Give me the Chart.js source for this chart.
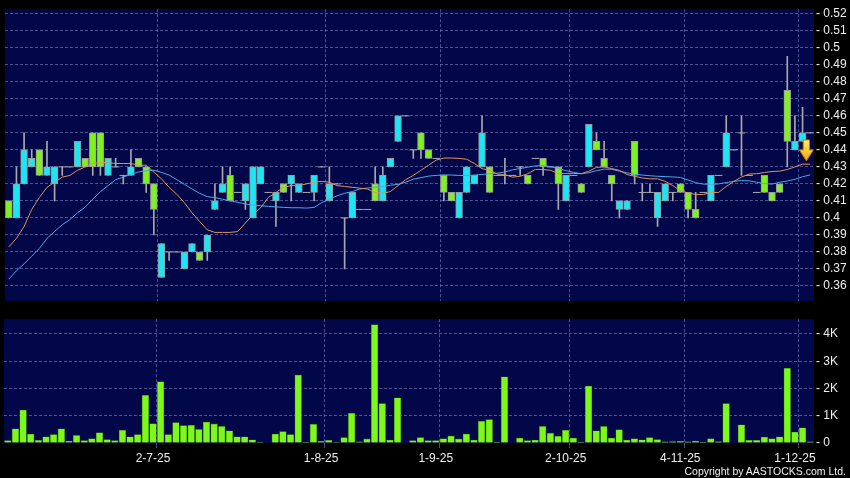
<!DOCTYPE html>
<html>
<head>
<meta charset="utf-8">
<script src="https://cdn.jsdelivr.net/npm/chart.js@4.4.1/dist/chart.umd.min.js"></script>
<style>
  html, body { margin: 0; padding: 0; background: #000; }
  #wrap { position: relative; width: 850px; height: 478px; background: #000; overflow: hidden; }
  #priceBox { position: absolute; left: 0; top: 0; width: 850px; height: 310px; }
  #volBox { position: absolute; left: 0; top: 310px; width: 850px; height: 168px; }
  #copy { position: absolute; right: 4px; top: 465px; color: #f0f0f0; font: 10.5px "Liberation Sans", Arial, sans-serif; }
</style>
</head>
<body>
<div id="wrap">
  <div id="priceBox"><canvas id="priceChart" width="850" height="310"></canvas></div>
  <div id="volBox"><canvas id="volChart" width="850" height="168"></canvas></div>
  <div id="copy">Copyright by AASTOCKS.com Ltd.</div>
</div>
<script>
// Datos del gráfico
const dateIdx = [19, 41, 56, 73, 88, 103];
const dateLabels = ['2-7-25', '1-8-25', '1-9-25', '2-10-25', '4-11-25', '1-12-25'];
const priceTicks = [0.36, 0.37, 0.38, 0.39, 0.40, 0.41, 0.42, 0.43, 0.44, 0.45, 0.46, 0.47, 0.48, 0.49, 0.50, 0.51, 0.52];
const volTicks = [0, 1, 2, 3, 4];

const opens = [
  .41, .40, .42, .43, .44, .425, .42, .43, .43, .43,
  .435, .45, .45, .425, .43, .425, .425, .435, .43, .42,
  .365, .38, .38, .37, .38, .38, .38, .405, .415, .425,
  .415, .41, .40, .42, .415, .41, .42, .42, .415, .415,
  .415, .43, .41, .42, .40, .40, .405, .405, .42, .41,
  .43, .445, .46, .44, .45, .44, .435, .425, .415, .40,
  .415, .42, .43, .43, .425, .425, .425, .43, .425, .435,
  .435, .43, .43, .41, .425, .42, .43, .445, .435, .425,
  .405, .405, .445, .415, .415, .40, .41, .415, .42, .415,
  .405, .415, .41, .425, .43, .44, .45, .425, .415, .425,
  .415, .42, .475, .44, .445, .45
];
const highs = [
  .41, .43, .45, .44, .44, .445, .43, .43, .43, .445,
  .435, .45, .45, .435, .435, .425, .44, .435, .43, .42,
  .385, .38, .38, .38, .385, .38, .39, .42, .43, .43,
  .415, .42, .43, .43, .415, .415, .42, .425, .42, .415,
  .425, .43, .43, .42, .40, .415, .405, .405, .43, .43,
  .435, .46, .46, .44, .45, .44, .435, .425, .415, .415,
  .43, .425, .46, .43, .425, .435, .425, .43, .425, .435,
  .435, .43, .43, .425, .425, .42, .455, .45, .445, .425,
  .41, .41, .445, .42, .42, .415, .42, .415, .42, .415,
  .415, .415, .425, .425, .46, .44, .46, .425, .415, .425,
  .415, .42, .495, .46, .465, .45
];
const lows = [
  .40, .40, .42, .43, .425, .425, .41, .425, .43, .43,
  .43, .425, .425, .425, .43, .42, .425, .43, .415, .39,
  .365, .375, .38, .37, .38, .375, .375, .405, .415, .41,
  .415, .405, .40, .42, .415, .395, .415, .41, .415, .415,
  .41, .43, .41, .42, .37, .40, .405, .405, .41, .41,
  .43, .445, .46, .435, .435, .435, .435, .41, .41, .40,
  .415, .42, .43, .415, .425, .42, .425, .425, .42, .435,
  .425, .43, .405, .41, .425, .415, .43, .44, .43, .41,
  .40, .405, .42, .41, .415, .395, .41, .41, .415, .40,
  .40, .415, .41, .425, .43, .44, .425, .425, .415, .415,
  .41, .415, .43, .44, .445, .45
];
const closes = [
  .40, .42, .44, .435, .425, .43, .43, .43, .43, .445,
  .43, .43, .43, .435, .43, .425, .43, .43, .42, .405,
  .385, .38, .38, .38, .385, .375, .39, .41, .42, .41,
  .415, .42, .43, .43, .415, .415, .415, .425, .42, .415,
  .425, .43, .42, .42, .40, .415, .405, .405, .41, .425,
  .435, .46, .46, .44, .44, .435, .435, .415, .41, .415,
  .43, .425, .45, .415, .425, .425, .425, .43, .42, .435,
  .43, .43, .42, .425, .425, .415, .455, .44, .43, .42,
  .41, .41, .425, .415, .415, .415, .42, .415, .415, .405,
  .40, .415, .425, .425, .45, .44, .45, .425, .415, .415,
  .41, .415, .445, .445, .45, .45
];
// volumen en miles (K)
const volumes = [
  0.09, 0.52, 1.21, 0.33, 0.10, 0.23, 0.31, 0.52, 0.07, 0.28,
  0.09, 0.16, 0.38, 0.13, 0.09, 0.47, 0.23, 0.31, 1.75, 0.71,
  2.25, 0.31, 0.75, 0.64, 0.65, 0.50, 0.77, 0.70, 0.61, 0.45,
  0.23, 0.23, 0.12, 0.02, 0, 0.33, 0.42, 0.31, 2.49, 0.01,
  0.69, 0.06, 0.10, 0.02, 0.20, 1.09, 0.04, 0.15, 4.34, 1.45,
  0.11, 1.66, 0, 0.09, 0.20, 0.09, 0.09, 0.16, 0.26, 0.15,
  0.33, 0.11, 0.80, 0.86, 0.01, 2.43, 0, 0.18, 0.09, 0.11,
  0.61, 0.36, 0.25, 0.47, 0.18, 0.01, 2.09, 0.45, 0.61, 0.18,
  0.49, 0.11, 0.16, 0.12, 0.20, 0.13, 0.04, 0.05, 0.06, 0.04,
  0.07, 0.01, 0.16, 0.05, 1.45, 0, 0.67, 0.10, 0.10, 0.22,
  0.16, 0.23, 2.74, 0.40, 0.56, 0.04
];
// medias móviles (naranja corta, azul larga)
const maShort = [
  0.383, 0.388, 0.395, 0.405, 0.412, 0.418, 0.421, 0.424, 0.425, 0.428,
  0.430, 0.432, 0.4325, 0.4325, 0.432, 0.432, 0.432, 0.431, 0.431, 0.427,
  0.423, 0.418, 0.414, 0.409, 0.403, 0.398, 0.393, 0.3915, 0.3915, 0.3915,
  0.392, 0.397, 0.402, 0.406, 0.412, 0.415, 0.418, 0.419, 0.419, 0.420,
  0.421, 0.4215, 0.421, 0.419, 0.4185, 0.418, 0.4175, 0.417, 0.415, 0.4145,
  0.4155, 0.419, 0.4225, 0.425, 0.428, 0.431, 0.434, 0.4352, 0.4352, 0.435,
  0.4345, 0.432, 0.429, 0.428, 0.4258, 0.4254, 0.424, 0.4245, 0.426, 0.4285,
  0.4285, 0.428, 0.426, 0.4262, 0.4262, 0.426, 0.4275, 0.4297, 0.430, 0.429,
  0.428, 0.4255, 0.4245, 0.4235, 0.423, 0.423, 0.4215, 0.419, 0.416, 0.4147,
  0.4138, 0.4138, 0.415, 0.415, 0.4185, 0.4215, 0.424, 0.4258, 0.426, 0.4267,
  0.4273, 0.4275, 0.4285, 0.430, 0.4316, 0.4316
];
const maLong = [
  0.364, 0.369, 0.373, 0.3775, 0.382, 0.388, 0.392, 0.396, 0.399, 0.403,
  0.4063, 0.411, 0.4154, 0.419, 0.4225, 0.424, 0.4256, 0.427, 0.4278, 0.428,
  0.4268, 0.4252, 0.4225, 0.4198, 0.417, 0.4145, 0.4125, 0.412, 0.411, 0.410,
  0.4092, 0.4083, 0.4075, 0.4072, 0.4068, 0.4065, 0.4062, 0.406, 0.406, 0.4058,
  0.4062, 0.409, 0.411, 0.413, 0.4145, 0.4155, 0.417, 0.4176, 0.418, 0.4185,
  0.4192, 0.4198, 0.421, 0.4228, 0.4237, 0.4246, 0.425, 0.4253, 0.4252, 0.425,
  0.4249, 0.4252, 0.4256, 0.426, 0.4263, 0.427, 0.4283, 0.429, 0.4298, 0.4306,
  0.4308, 0.4302, 0.429, 0.4278, 0.4268, 0.426, 0.4266, 0.4278, 0.4287, 0.4286,
  0.4275, 0.4265, 0.4257, 0.4252, 0.4248, 0.4245, 0.4243, 0.4241, 0.4238, 0.4223,
  0.4207, 0.4199, 0.4197, 0.420, 0.4208, 0.4215, 0.422, 0.4218, 0.421, 0.4202,
  0.4199, 0.421, 0.4217, 0.4227, 0.4242, 0.4253
];

// Colores
const bgColor = '#02074a';
const gridColor = 'rgba(120, 132, 200, 0.6)';
const textColor = '#eeeeee';
const upColor = '#1ce6f4';
const downColor = '#80f022';
const wickColor = '#a8a8a8';
const fontFamily = '"Liberation Sans", Arial, sans-serif';

const labels = opens.map((_, i) => String(i));
const wicks = lows.map((l, i) => [l, highs[i]]);
const bodies = opens.map((o, i) => o === closes[i] ? null : [o, closes[i]]);
const dojis = opens.map((o, i) => o === closes[i] ? closes[i] : null);
const bodyColors = opens.map((o, i) => closes[i] > o ? upColor : downColor);

// Fondo azul del área de trazado
const plotBg = {
    id: 'plotBg',
    beforeDraw(chart) {
        const { ctx, chartArea: a } = chart;
        ctx.save();
        ctx.fillStyle = bgColor;
        ctx.fillRect(a.left, a.top, a.right - a.left, a.bottom - a.top);
        ctx.restore();
    }
};

// Flecha amarilla junto a la última vela
const lastArrow = {
    id: 'lastArrow',
    afterDatasetsDraw(chart) {
        const { ctx, scales: { x, y } } = chart;
        const last = closes.length - 1;
        const cx = (x.getPixelForValue(last - 1) + x.getPixelForValue(last)) / 2;
        const top = y.getPixelForValue(closes[last]) + 7;
        const g = ctx.createLinearGradient(0, top, 0, top + 21);
        g.addColorStop(0, '#fff06a');
        g.addColorStop(1, '#f2a400');
        ctx.save();
        ctx.beginPath();
        ctx.moveTo(cx - 3.2, top);
        ctx.lineTo(cx + 3.2, top);
        ctx.lineTo(cx + 3.2, top + 10);
        ctx.lineTo(cx + 7, top + 10);
        ctx.lineTo(cx, top + 21);
        ctx.lineTo(cx - 7, top + 10);
        ctx.lineTo(cx - 3.2, top + 10);
        ctx.closePath();
        ctx.fillStyle = g;
        ctx.fill();
        ctx.strokeStyle = '#b87400';
        ctx.lineWidth = 1;
        ctx.stroke();
        ctx.restore();
    }
};

function fmtPrice(v) {
    return String(Math.round(v * 100) / 100);
}

function dateGrid(ctx) {
    return dateIdx.includes(ctx.index - 1) ? gridColor : 'rgba(0,0,0,0)';
}

function createPriceChart() {
    const ctx = document.getElementById('priceChart');
    return new Chart(ctx, {
        type: 'bar',
        data: {
            labels: labels,
            datasets: [
                {
                    type: 'line',
                    data: maShort,
                    borderColor: '#e2925c',
                    borderWidth: 1,
                    pointRadius: 0,
                    order: 1
                },
                {
                    type: 'line',
                    data: maLong,
                    borderColor: '#4aa8ea',
                    borderWidth: 1,
                    pointRadius: 0,
                    order: 2
                },
                {
                    type: 'line',
                    data: dojis,
                    showLine: false,
                    pointStyle: 'line',
                    pointRadius: 3.8,
                    pointBorderWidth: 1,
                    pointBorderColor: wickColor,
                    order: 3
                },
                {
                    data: bodies,
                    backgroundColor: bodyColors,
                    borderColor: '#9a9a9a',
                    borderWidth: 1,
                    borderSkipped: false,
                    barThickness: 6.8,
                    grouped: false,
                    order: 4
                },
                {
                    data: wicks,
                    backgroundColor: wickColor,
                    barThickness: 1,
                    grouped: false,
                    order: 5
                }
            ]
        },
        options: {
            responsive: false,
            animation: false,
            events: [],
            layout: { padding: { left: 4, top: 5, bottom: 5, right: 0 } },
            plugins: { legend: { display: false }, tooltip: { enabled: false } },
            scales: {
                x: {
                    offset: true,
                    ticks: { display: false },
                    grid: { offset: true, drawTicks: false, color: dateGrid },
                    border: { display: false, dash: [3, 2] },
                    afterFit: (s) => { s.height = 0; }
                },
                y: {
                    position: 'right',
                    min: 0.3513,
                    max: 0.5227,
                    afterBuildTicks: (s) => { s.ticks = priceTicks.map(v => ({ value: v })); },
                    afterFit: (s) => { s.width = 36; },
                    ticks: {
                        color: textColor,
                        padding: 2,
                        font: { family: fontFamily, size: 12 },
                        callback: (v) => '- ' + fmtPrice(v)
                    },
                    grid: { color: gridColor, drawTicks: false },
                    border: { display: false, dash: [3, 2] }
                }
            }
        },
        plugins: [plotBg, lastArrow]
    });
}

function createVolumeChart() {
    const ctx = document.getElementById('volChart');
    return new Chart(ctx, {
        type: 'bar',
        data: {
            labels: labels,
            datasets: [{
                data: volumes,
                backgroundColor: '#7ef81a',
                borderColor: 'rgba(60, 130, 20, 0.8)',
                borderWidth: 0.6,
                borderSkipped: 'bottom',
                barThickness: 6.7
            }]
        },
        options: {
            responsive: false,
            animation: false,
            events: [],
            layout: { padding: { left: 4, top: 9, bottom: 0, right: 0 } },
            plugins: { legend: { display: false }, tooltip: { enabled: false } },
            scales: {
                x: {
                    offset: true,
                    ticks: {
                        autoSkip: false,
                        maxRotation: 0,
                        padding: 3,
                        color: textColor,
                        font: { family: fontFamily, size: 12 },
                        callback: (v, i) => {
                            const k = dateIdx.indexOf(i);
                            return k >= 0 ? dateLabels[k] : '';
                        }
                    },
                    grid: { offset: true, color: dateGrid, tickLength: 5, tickColor: dateGrid },
                    border: { display: false, dash: [3, 2] },
                    afterFit: (s) => { s.height = 35; }
                },
                y: {
                    position: 'right',
                    min: 0,
                    max: 4.54,
                    afterBuildTicks: (s) => { s.ticks = volTicks.map(v => ({ value: v })); },
                    afterFit: (s) => { s.width = 36; },
                    ticks: {
                        color: textColor,
                        padding: 2,
                        font: { family: fontFamily, size: 12 },
                        callback: (v) => '- ' + (v === 0 ? '0' : v + 'K')
                    },
                    grid: {
                        color: (c) => c.tick && c.tick.value === 0 ? 'rgba(0,0,0,0)' : gridColor,
                        drawTicks: false
                    },
                    border: { display: false, dash: [3, 2] }
                }
            }
        },
        plugins: [plotBg]
    });
}

createPriceChart();
createVolumeChart();
</script>
</body>
</html>
